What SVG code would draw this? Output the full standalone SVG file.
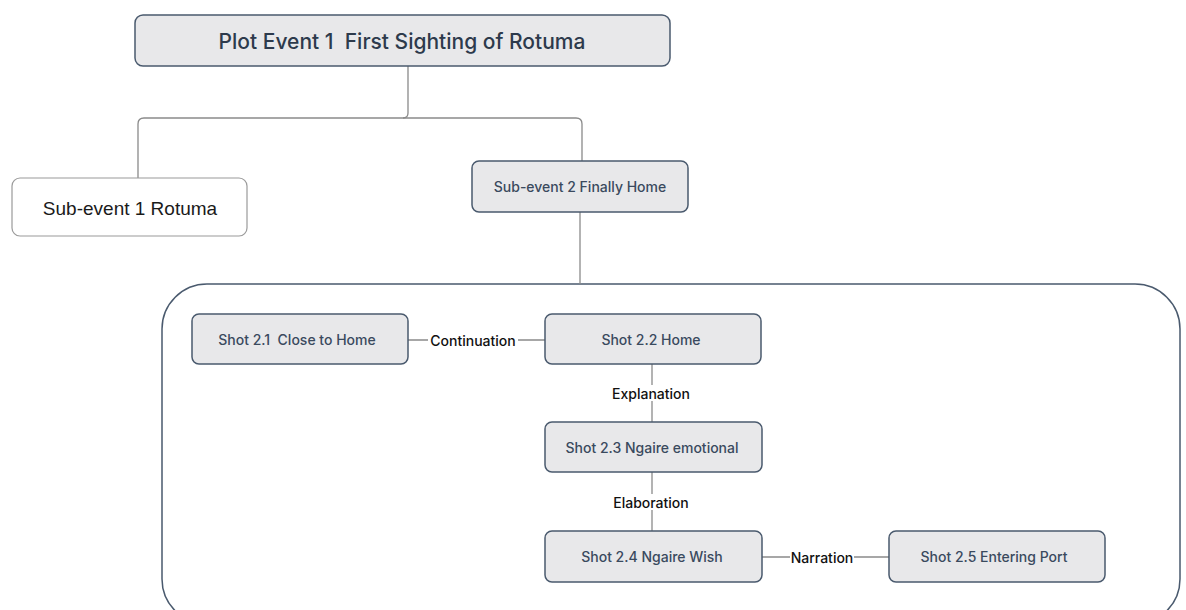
<svg xmlns="http://www.w3.org/2000/svg" width="1186" height="610" viewBox="0 0 1186 610">
<style>
.node rect{fill:#e8e8ea;stroke:#4a5a6e;stroke-width:1.5}
.node text{font-family:Inter,"Noto Sans",sans-serif;font-size:14px;font-weight:500;fill:#3a4a5e;text-anchor:middle;dominant-baseline:central;white-space:pre}
.conn path,.conn line{fill:none;stroke:#8a8a8a;stroke-width:1.3}
.lbl{font-family:Inter,"Liberation Sans",sans-serif;font-size:14px;font-weight:500;fill:#111;text-anchor:middle;dominant-baseline:central}
.lblbg{fill:#fff}
</style>
<rect width="1186" height="610" fill="#fff"/>
<g id="container">
<rect x="162" y="284" width="1018" height="340" rx="45" fill="none" stroke="#4a5a6e" stroke-width="1.5"/>
</g>
<g class="conn" id="connectors">
<path d="M408 66 V113 Q408 118 403 118 H144 Q138 118 138 124 V178"/>
<path d="M403 118 H576 Q582 118 582 124 V161"/>
<line x1="580" y1="212" x2="580" y2="284"/>
<line x1="408" y1="340" x2="545" y2="340"/>
<line x1="652" y1="364" x2="652" y2="422"/>
<line x1="652" y1="472" x2="652" y2="531"/>
<line x1="762" y1="557" x2="889" y2="557"/>
</g>
<g id="labels">
<rect class="lblbg" x="428" y="332" width="90" height="16"/>
<text class="lbl" x="473" y="340">Continuation</text>
<rect class="lblbg" x="608" y="385" width="86" height="16"/>
<text class="lbl" x="651" y="393">Explanation</text>
<rect class="lblbg" x="610" y="494" width="82" height="16"/>
<text class="lbl" x="651" y="502">Elaboration</text>
<rect class="lblbg" x="790" y="549" width="64" height="16"/>
<text class="lbl" x="822" y="557">Narration</text>
</g>
<g id="plot-event" class="node">
<rect x="135" y="15" width="535" height="51" rx="8"/>
<text x="402" y="41" xml:space="preserve" style="font-size:21px;fill:#2d3a4c">Plot Event 1  First Sighting of Rotuma</text>
</g>
<g id="sub-event-1">
<rect x="12" y="178" width="235" height="58" rx="8" fill="#fff" stroke="#9a9a9a" stroke-width="1.2"/>
<text x="130" y="208" font-family="Liberation Sans,Arial,sans-serif" font-size="19" fill="#1a1a1a" text-anchor="middle" dominant-baseline="central">Sub-event 1 Rotuma</text>
</g>
<g id="sub-event-2" class="node">
<rect x="472" y="161" width="216" height="51" rx="7"/>
<text x="580" y="186">Sub-event 2 Finally Home</text>
</g>
<g id="shot-2-1" class="node">
<rect x="192" y="314" width="216" height="50" rx="7"/>
<text x="297" y="339" xml:space="preserve">Shot 2.1  Close to Home</text>
</g>
<g id="shot-2-2" class="node">
<rect x="545" y="314" width="216" height="50" rx="7"/>
<text x="651" y="339">Shot 2.2 Home</text>
</g>
<g id="shot-2-3" class="node">
<rect x="545" y="422" width="217" height="50" rx="7"/>
<text x="652" y="447">Shot 2.3 Ngaire emotional</text>
</g>
<g id="shot-2-4" class="node">
<rect x="545" y="531" width="217" height="51" rx="7"/>
<text x="652" y="556">Shot 2.4 Ngaire Wish</text>
</g>
<g id="shot-2-5" class="node">
<rect x="889" y="531" width="216" height="51" rx="7"/>
<text x="994" y="556">Shot 2.5 Entering Port</text>
</g>
</svg>
